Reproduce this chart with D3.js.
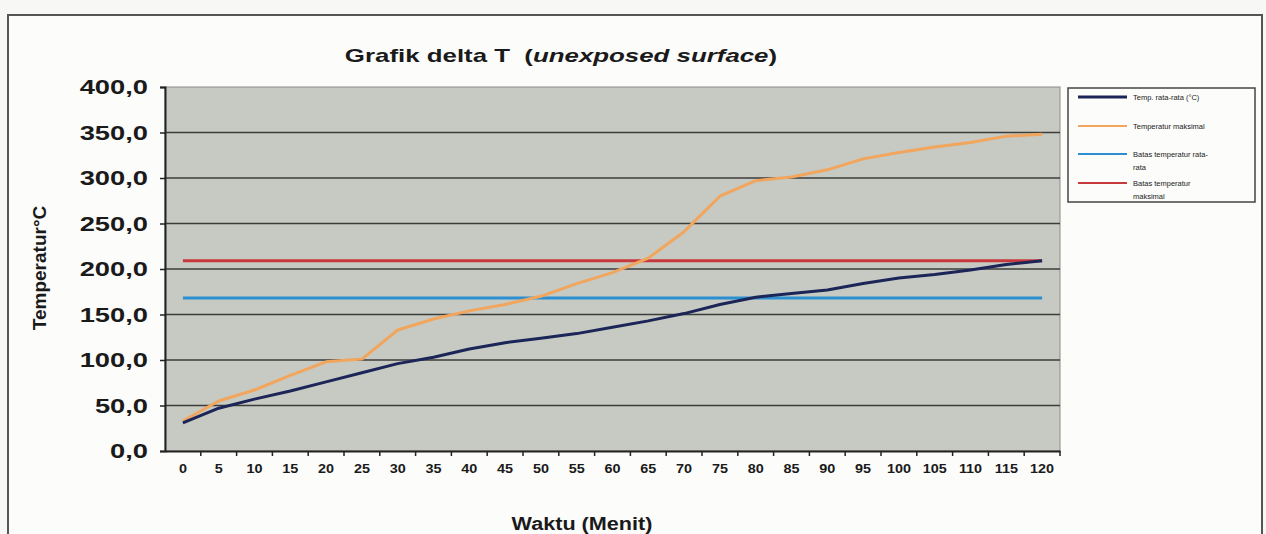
<!DOCTYPE html>
<html>
<head>
<meta charset="utf-8">
<script src="https://cdn.jsdelivr.net/npm/d3@7"></script>
<style>
  body { margin: 0; background: #f7f7f5; }
  svg { display: block; font-family: "Liberation Sans", Arial, sans-serif; }
</style>
</head>
<body>
<svg id="drawing_region"></svg>
<script>
// menit
const minutes = [0,5,10,15,20,25,30,35,40,45,50,55,60,65,70,75,80,85,90,95,100,105,110,115,120];
// Temp. rata-rata (°C)
const tempRata = [31,47,57,66,76,86,96,103,112,119,124,129,136,143,151,161,169,173,177,184,190,194,199,205,209];
// Temperatur maksimal
const tempMaks = [33,55,67,83,98,101,133,145,154,161,170,184,196,212,241,280,297,301,309,321,328,334,339,346,348];
// Batas temperatur rata-rata
const batasRata = [168,168,168,168,168,168,168,168,168,168,168,168,168,168,168,168,168,168,168,168,168,168,168,168,168];
// Batas temperatur maksimal
const batasMaks = [209,209,209,209,209,209,209,209,209,209,209,209,209,209,209,209,209,209,209,209,209,209,209,209,209];
const yTicks = [0,50,100,150,200,250,300,350,400];

const seriesNames = ['Temp. rata-rata (°C)', 'Temperatur maksimal', 'Batas temperatur rata-rata', 'Batas temperatur maksimal'];
const seriesColors = ['#1c2558', '#f2a55c', '#2b8fd2', '#c8393d'];
const legendLines = [['Temp. rata-rata (°C)'], ['Temperatur maksimal'], ['Batas temperatur rata-', 'rata'], ['Batas temperatur', 'maksimal']];

const config = {
    width: 1266,
    height: 534,
    plot: {left: 165, right: 1060, top: 87, bottom: 451},
};

const svg = d3.select('#drawing_region')
    .attr('width', config.width)
    .attr('height', config.height);

// frame of the page
svg.append('path')
    .attr('d', 'M8,534 L8,15 L1262,15 L1262,534')
    .attr('fill', '#fcfcfb')
    .attr('stroke', '#555')
    .attr('stroke-width', 2);

const xscale = d3.scaleBand()
    .domain(minutes)
    .range([config.plot.left, config.plot.right]);

const yscale = d3.scaleLinear()
    .domain([0, 400])
    .range([config.plot.bottom, config.plot.top]);

const xc = d => xscale(d) + xscale.bandwidth() / 2;

// plot background
svg.append('rect')
    .attr('x', config.plot.left)
    .attr('y', config.plot.top)
    .attr('width', config.plot.right - config.plot.left)
    .attr('height', config.plot.bottom - config.plot.top)
    .attr('fill', '#c7cac3')
    .attr('stroke', '#8a8c88')
    .attr('stroke-width', 1);

// gridlines
svg.append('g')
    .selectAll('line')
    .data(yTicks.filter(d => d > 0 && d < 400))
    .join('line')
    .attr('x1', config.plot.left)
    .attr('x2', config.plot.right)
    .attr('y1', d => yscale(d))
    .attr('y2', d => yscale(d))
    .attr('stroke', '#3c3d3b')
    .attr('stroke-width', 1.6);

// y axis
const fmt = d3.formatLocale({decimal: ',', thousands: '.', grouping: [3], currency: ['', '']}).format('.1f');
const yaxis = d3.axisLeft(yscale)
    .tickValues(yTicks)
    .tickFormat(fmt)
    .tickSize(5)
    .tickPadding(12);
const yaxis_group = svg.append('g')
    .attr('transform', `translate(${config.plot.left},0)`)
    .call(yaxis);
yaxis_group.select('.domain').attr('stroke', '#222').attr('stroke-width', 2);
yaxis_group.selectAll('.tick line').attr('stroke', '#222').attr('stroke-width', 1.5);
yaxis_group.selectAll('.tick text')
    .attr('class', 'stretch')
    .attr('data-k', 1.3)
    .attr('font-size', 21)
    .attr('font-weight', 'bold')
    .attr('fill', '#1a1a1a');

// x axis: labels at category centers, ticks between categories
const xaxis = d3.axisBottom(xscale)
    .tickSize(0)
    .tickPadding(13);
const xaxis_group = svg.append('g')
    .attr('transform', `translate(0,${config.plot.bottom})`)
    .call(xaxis);
xaxis_group.select('.domain').attr('stroke', '#222').attr('stroke-width', 2);
xaxis_group.selectAll('.tick text')
    .attr('class', 'stretch')
    .attr('data-k', 1.2)
    .attr('font-size', 12)
    .attr('font-weight', 'bold')
    .attr('fill', '#1a1a1a');
xaxis_group.selectAll('line.sep')
    .data(minutes)
    .join('line')
    .attr('class', 'sep')
    .attr('x1', d => xscale(d) + xscale.bandwidth())
    .attr('x2', d => xscale(d) + xscale.bandwidth())
    .attr('y1', 0)
    .attr('y2', 5)
    .attr('stroke', '#222')
    .attr('stroke-width', 1.5);

// series
const seriesData = [tempRata, tempMaks, batasRata, batasMaks];
const line = d3.line()
    .x((d, i) => xc(minutes[i]))
    .y(d => yscale(d));
const drawOrder = [2, 3, 1, 0];
svg.append('g')
    .selectAll('path')
    .data(drawOrder)
    .join('path')
    .attr('d', k => line(seriesData[k]))
    .attr('fill', 'none')
    .attr('stroke', k => seriesColors[k])
    .attr('stroke-width', 3)
    .attr('stroke-linejoin', 'round');

// title
const title = svg.append('text')
    .attr('class', 'stretch')
    .attr('data-k', 1.36)
    .attr('x', 561)
    .attr('y', 62)
    .attr('text-anchor', 'middle')
    .attr('font-size', 19)
    .attr('font-weight', 'bold')
    .attr('fill', '#1a1a1a')
    .attr('xml:space', 'preserve');
title.append('tspan').text('Grafik delta T  (');
title.append('tspan').attr('font-style', 'italic').text('unexposed surface');
title.append('tspan').text(')');

// axis titles
svg.append('text')
    .attr('class', 'stretch')
    .attr('data-k', 1.2)
    .attr('x', 582)
    .attr('y', 530)
    .attr('text-anchor', 'middle')
    .attr('font-size', 18)
    .attr('font-weight', 'bold')
    .attr('fill', '#1a1a1a')
    .text('Waktu (Menit)');

svg.append('text')
    .attr('transform', 'translate(46,268) rotate(-90)')
    .attr('text-anchor', 'middle')
    .attr('font-size', 19)
    .attr('font-weight', 'bold')
    .attr('fill', '#1a1a1a')
    .text('Temperatur°C');

// legend
const legend = svg.append('g');
legend.append('rect')
    .attr('x', 1068)
    .attr('y', 88)
    .attr('width', 187)
    .attr('height', 114)
    .attr('fill', '#fcfcfb')
    .attr('stroke', '#444')
    .attr('stroke-width', 1.5);
const legendY = [97, 126, 154, 183];
const item = legend.selectAll('g.item')
    .data(seriesNames)
    .join('g')
    .attr('class', 'item')
    .attr('transform', (d, i) => `translate(1078,${legendY[i]})`);
item.append('line')
    .attr('x1', 0)
    .attr('x2', 49)
    .attr('stroke', (d, i) => seriesColors[i])
    .attr('stroke-width', (d, i) => i === 0 ? 3 : 2);
item.each(function(d, i) {
    const t = d3.select(this).append('text')
        .attr('x', 55)
        .attr('y', 3)
        .attr('font-size', 7.5)
        .attr('fill', '#222');
    legendLines[i].forEach((s, j) => {
        t.append('tspan').attr('x', 55).attr('dy', j === 0 ? 0 : 13).text(s);
    });
});

// the photo stretches the text sideways
svg.selectAll('text.stretch').each(function() {
    const w = this.getComputedTextLength();
    const k = +d3.select(this).attr('data-k');
    d3.select(this)
        .attr('textLength', w * k)
        .attr('lengthAdjust', 'spacingAndGlyphs');
});
</script>
</body>
</html>
